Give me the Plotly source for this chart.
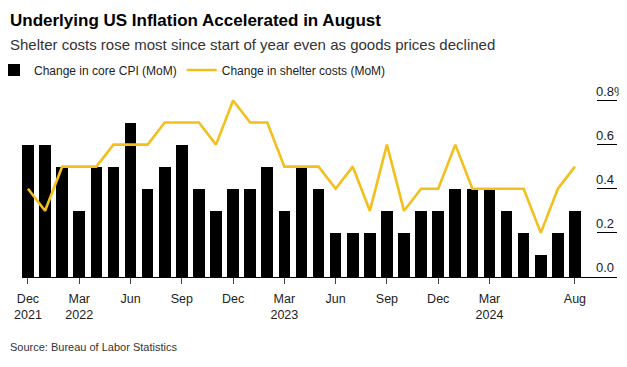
import plotly.graph_objects as go

months = [
    "2021-12", "2022-01", "2022-02", "2022-03", "2022-04", "2022-05", "2022-06",
    "2022-07", "2022-08", "2022-09", "2022-10", "2022-11", "2022-12", "2023-01",
    "2023-02", "2023-03", "2023-04", "2023-05", "2023-06", "2023-07", "2023-08",
    "2023-09", "2023-10", "2023-11", "2023-12", "2024-01", "2024-02", "2024-03",
    "2024-04", "2024-05", "2024-06", "2024-07", "2024-08",
]
core_cpi = [0.6, 0.6, 0.5, 0.3, 0.5, 0.5, 0.7, 0.4, 0.5, 0.6, 0.4, 0.3, 0.4, 0.4,
            0.5, 0.3, 0.5, 0.4, 0.2, 0.2, 0.2, 0.3, 0.2, 0.3, 0.3, 0.4, 0.4, 0.4,
            0.3, 0.2, 0.1, 0.2, 0.3]
shelter = [0.4, 0.3, 0.5, 0.5, 0.5, 0.6, 0.6, 0.6, 0.7, 0.7, 0.7, 0.6, 0.8, 0.7,
           0.7, 0.5, 0.5, 0.5, 0.4, 0.5, 0.3, 0.6, 0.3, 0.4, 0.4, 0.6, 0.4, 0.4,
           0.4, 0.4, 0.2, 0.4, 0.5]
x_tick_vals = ["2021-12", "2022-03", "2022-06", "2022-09", "2022-12", "2023-03",
               "2023-06", "2023-09", "2023-12", "2024-03", "2024-08"]
x_tick_text = ["Dec<br>2021", "Mar<br>2022", "Jun", "Sep", "Dec", "Mar<br>2023",
               "Jun", "Sep", "Dec", "Mar<br>2024", "Aug"]
y_tick_vals = [0.0, 0.2, 0.4, 0.6, 0.8]
y_tick_text = ["0.0", "0.2", "0.4", "0.6", "0.8%"]

FONT = "Liberation Sans, Arial, sans-serif"
# the page body has an 8px margin, so the figure is 8px smaller than the window
W, H = 619, 359
Y_RANGE = [0, 0.92]
PX_PER_UNIT = 221.25
L, R = 14, 10
B = 89.5
T = (H - B) - Y_RANGE[1] * PX_PER_UNIT
plot_w = W - L - R
plot_h = H - T - B
split = (589 - L) / plot_w  # where the bar area ends and the y-axis strip begins

fig = go.Figure()
fig.add_trace(go.Bar(
    x=months, y=core_cpi, name="Change in core CPI (MoM)",
    marker=dict(color="black", line=dict(width=0)), width=0.68,
))
fig.add_trace(go.Scatter(
    x=months, y=shelter, name="Change in shelter costs (MoM)", mode="lines",
    line=dict(color="#F2BF1D", width=2.6),
))
# empty trace that only makes the narrow y-axis strip subplot exist
fig.add_trace(go.Scatter(
    x=[], y=[], xaxis="x2", yaxis="y2", showlegend=False, hoverinfo="skip",
))

fig.update_layout(
    width=W, height=H,
    margin=dict(l=L, r=R, t=T, b=B, pad=0, autoexpand=False),
    paper_bgcolor="white", plot_bgcolor="white",
    font=dict(family=FONT, size=13, color="#222"),
    showlegend=True,
    legend=dict(
        orientation="h", x=(-14 - L) / plot_w, xanchor="left",
        y=1 + (T - 62) / plot_h, yanchor="middle",
        font=dict(size=12, color="#222"), bgcolor="rgba(0,0,0,0)",
        itemwidth=30,
    ),
    title=dict(
        text="<b>Underlying US Inflation Accelerated in August</b>",
        font=dict(family=FONT, size=17, color="black"),
        xref="container", x=2 / W, xanchor="left",
        yref="container", y=1 - 12.5 / H, yanchor="middle",
        pad=dict(l=0, r=0, t=0, b=0),
    ),
    bargap=0,
    xaxis=dict(
        type="category", range=[-0.35, 33.29], domain=[0, split],
        tickmode="array", tickvals=x_tick_vals, ticktext=x_tick_text,
        ticks="outside", ticklen=6, tickcolor="#444", tickwidth=1,
        ticklabelstandoff=4,
        showline=True, linecolor="black", linewidth=1,
        showgrid=False, zeroline=False,
        tickfont=dict(size=12.5, color="#222"),
    ),
    yaxis=dict(
        range=Y_RANGE, showticklabels=False, ticks="",
        showline=False, showgrid=False, zeroline=False,
    ),
    xaxis2=dict(
        domain=[split, 1], anchor="y2", range=[0, 1],
        showticklabels=False, ticks="", showgrid=False, zeroline=False,
        showline=True, linecolor="black", linewidth=1,
    ),
    yaxis2=dict(
        domain=[0, 1], anchor="x2", side="left", range=Y_RANGE,
        tickmode="array", tickvals=y_tick_vals, ticktext=y_tick_text,
        ticks="", ticklabelposition="inside top", ticklabelstandoff=-4,
        showgrid=True, gridcolor="black", gridwidth=1,
        showline=False, zeroline=False,
        tickfont=dict(size=13, color="#222"),
    ),
)

fig.add_annotation(
    text="Shelter costs rose most since start of year even as goods prices declined",
    xref="paper", yref="paper", x=(0 - L) / plot_w, xanchor="left",
    y=1 + (T - 36) / plot_h, yanchor="middle", showarrow=False,
    font=dict(family=FONT, size=15, color="#333"),
)
fig.add_annotation(
    text="Source: Bureau of Labor Statistics",
    xref="paper", yref="paper", x=(0 - L) / plot_w, xanchor="left",
    y=-(340 - (H - B)) / plot_h, yanchor="middle", showarrow=False,
    font=dict(family=FONT, size=11, color="#333"),
)

fig.write_html("out.html")
